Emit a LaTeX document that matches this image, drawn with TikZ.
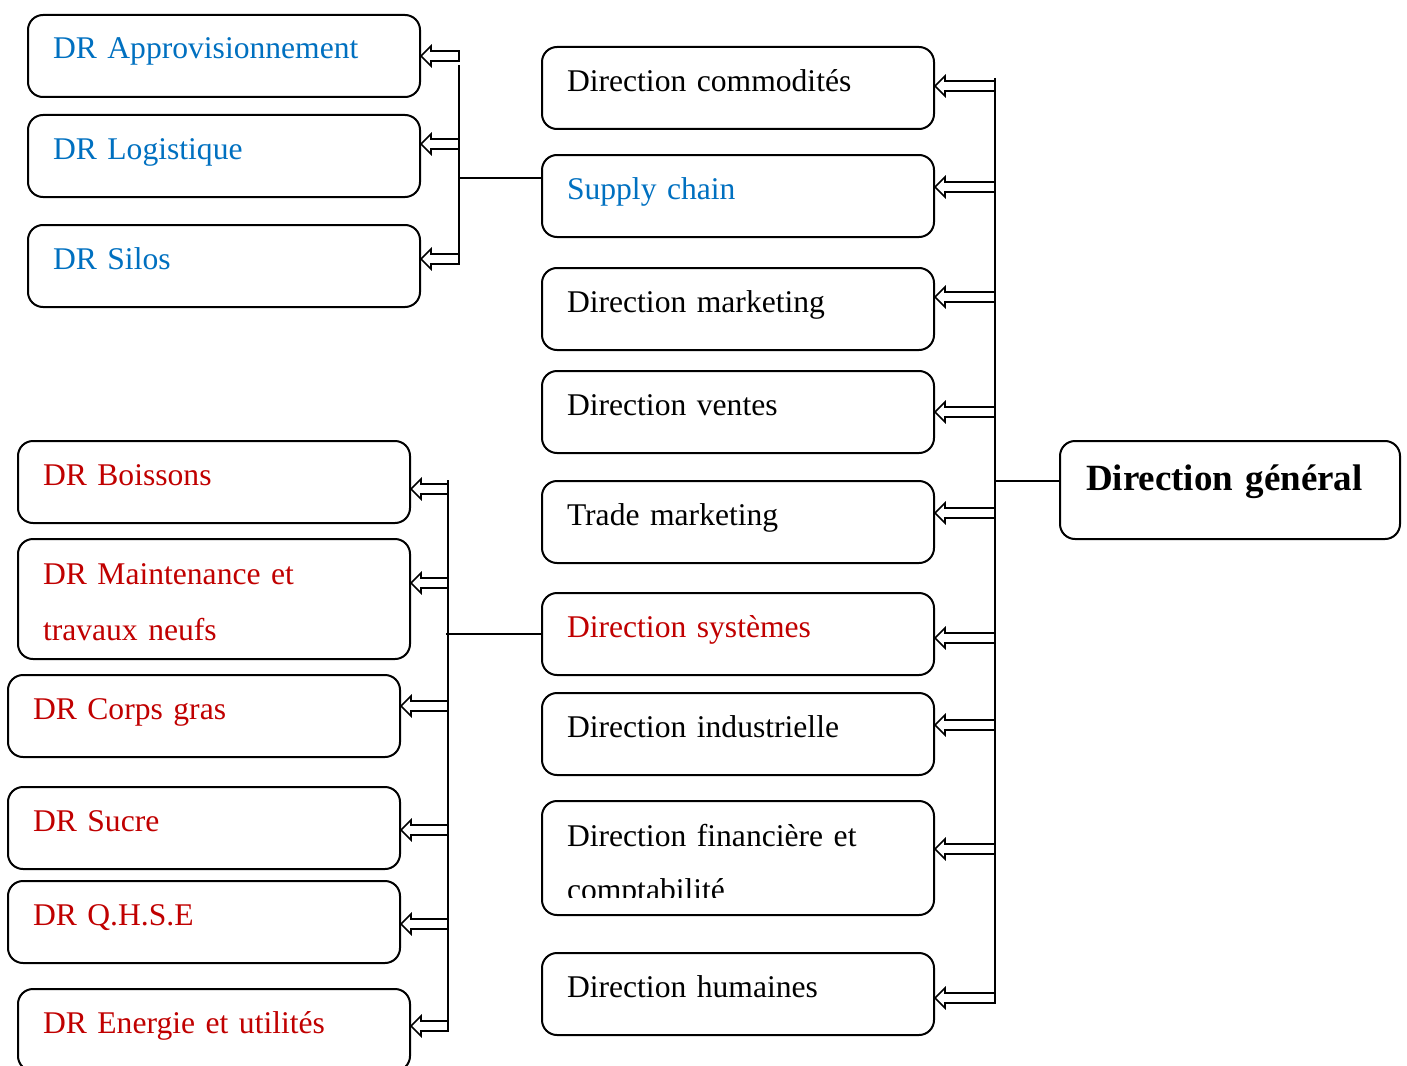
\documentclass[tikz,border=0pt]{standalone}
\usepackage{fontspec}
\setmainfont{Liberation Serif}
\usetikzlibrary{calc}
\definecolor{drblue}{HTML}{0070C0}
\definecolor{drred}{HTML}{C00000}
\tikzset{
	box/.style={draw, line width=1pt, rounded corners=7.5pt, anchor=north west,
		text width=171pt, inner xsep=12.5pt, align=left, minimum height=41pt,
		text height=12pt, text depth=9pt, font=\fontsize{15.8}{28}\selectfont},
	bus/.style={line width=1pt},
	blk/.style={draw, fill=white, line width=0.8pt,
		to path={let \p1=(\tikztostart), \p2=(\tikztotarget) in
			(\p2) -- (\x2+5pt,\y2+5pt) -- (\x2+5pt,\y2+2.5pt) -- (\x1,\y2+2.5pt)
			-- (\x1,\y2-2.5pt) -- (\x2+5pt,\y2-2.5pt) -- (\x2+5pt,\y2-5pt) -- cycle}}
}
\begin{document}
\begin{tikzpicture}[x=0.5pt, y=-0.5pt]
	\useasboundingbox (0,0) rectangle (1407,1065);
	
	% supply chain side
	\node[box, text=drblue] (appro) at (27,14) {DR Approvisionnement};
	\node[box, text=drblue] (logist) at (27,114) {DR Logistique};
	\node[box, text=drblue] (silos) at (27,224) {DR Silos};
	
	% directions
	\node[box] (commod) at (541,46) {Direction commodités};
	\node[box, text=drblue] (supply) at (541,154) {Supply chain};
	\node[box] (marketing) at (541,267) {Direction marketing};
	\node[box] (ventes) at (541,370) {Direction ventes};
	\node[box] (trade) at (541,480) {Trade marketing};
	\node[box, text=drred] (systemes) at (541,592) {Direction systèmes};
	\node[box] (indus) at (541,692) {Direction industrielle};
	\begin{scope}
		% the second line is cut off as in the original
		\clip (530,790) -- (945,790) -- (945,925) -- (530,925) -- (530,904) -- (555,904)
			-- (555,911) -- (925,911) -- (925,897) -- (555,897) -- (555,904) -- (530,904) -- cycle;
		\node[box, minimum height=57pt, text depth=24pt] (finance) at (541,800) {Direction financière et\\[-1pt]comptabilité};
	\end{scope}
	\node[box] (humaines) at (541,952) {Direction humaines};
	
	% systemes side
	\node[box, text=drred] (boissons) at (17,440) {DR Boissons};
	\node[box, text=drred, minimum height=60pt, text depth=27pt] (maint) at (17,538) {DR Maintenance et\\travaux neufs};
	\node[box, text=drred] (corps) at (7,674) {DR Corps gras};
	\node[box, text=drred] (sucre) at (7,786) {DR Sucre};
	\node[box, text=drred] (qhse) at (7,880) {DR Q.H.S.E};
	\node[box, text=drred] (energie) at (17,988) {DR Energie et utilités};
	
	\node[box, font=\fontsize{18.5}{22}\selectfont\bfseries, text width=144pt, inner xsep=13pt,
		minimum height=49pt, text height=12pt, text depth=12pt] (general) at (1059,440) {Direction général};
	
	% buses
	\coordinate (tlbus) at (459,65);
	\coordinate (tlend) at (459,265);
	\coordinate (rbus) at (995,78);
	\coordinate (rend) at (995,1002);
	\coordinate (llbus) at (448,480);
	\coordinate (llend) at (448,1032);
	\draw[bus] (tlbus) -- (tlend);
	\draw[bus] (rbus) -- (rend);
	\draw[bus] (llbus) -- (llend);
	
	\draw[bus] ([yshift=9pt]supply.west) coordinate (sj) -- (tlbus |- sj);
	\draw[bus] ([yshift=4.5pt]general.west) coordinate (gj) -- (rbus |- gj);
	\draw[bus] (systemes.west) -- ([xshift=-1pt]llbus |- systemes.west);
	
	% block arrows
	\draw[blk] (tlbus) to (appro.east);
	\draw[blk] (tlbus) to ([yshift=6pt]logist.east);
	\draw[blk] (tlbus) to ([yshift=3.5pt]silos.east);
	
	\draw[blk] (rbus) to ([yshift=1pt]commod.east);
	\draw[blk] (rbus) to ([yshift=4.5pt]supply.east);
	\draw[blk] (rbus) to ([yshift=6pt]marketing.east);
	\draw[blk] (rbus) to (ventes.east);
	\draw[blk] (rbus) to ([yshift=4.5pt]trade.east);
	\draw[blk] (rbus) to ([yshift=-2pt]systemes.east);
	\draw[blk] (rbus) to ([yshift=4.5pt]indus.east);
	\draw[blk] (rbus) to ([yshift=4.5pt]finance.east);
	\draw[blk] (rbus) to ([yshift=-2pt]humaines.east);
	
	\draw[blk] (llbus) to ([yshift=-3.5pt]boissons.east);
	\draw[blk] (llbus) to ([yshift=8pt]maint.east);
	\draw[blk] (llbus) to ([yshift=5pt]corps.east);
	\draw[blk] (llbus) to ([yshift=-1pt]sucre.east);
	\draw[blk] (llbus) to ([yshift=-1pt]qhse.east);
	\draw[blk] (llbus) to ([yshift=2pt]energie.east);
	
\end{tikzpicture}
\end{document}
